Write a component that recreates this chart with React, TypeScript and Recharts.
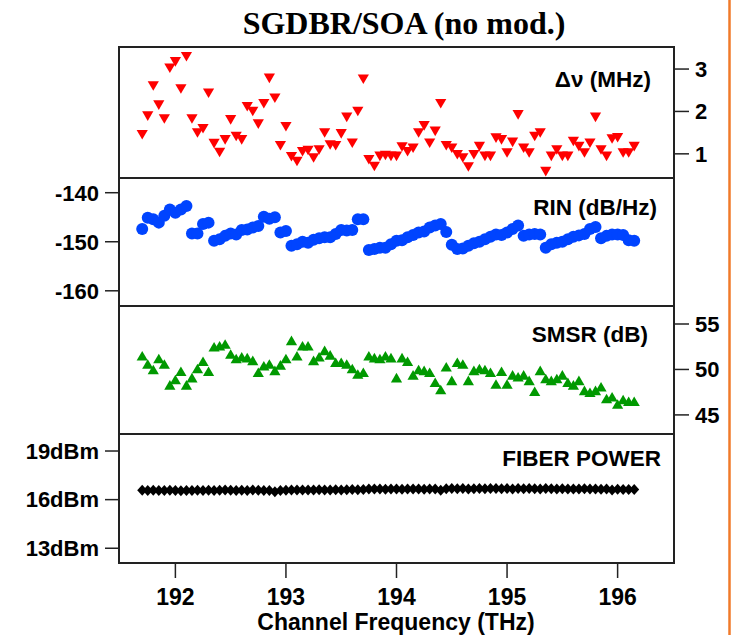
import React from 'react';
import { ScatterChart, Scatter, XAxis, YAxis, ReferenceArea } from 'recharts';

// ---------- data ----------
const FREQ = [
  191.7, 191.75, 191.8, 191.85, 191.9, 191.95, 192.0, 192.05, 192.1, 192.15,
  192.2, 192.25, 192.3, 192.35, 192.4, 192.45, 192.5, 192.55, 192.6, 192.65,
  192.7, 192.75, 192.8, 192.85, 192.9, 192.95, 193.0, 193.05, 193.1, 193.15,
  193.2, 193.25, 193.3, 193.35, 193.4, 193.45, 193.5, 193.55, 193.6, 193.65,
  193.7, 193.75, 193.8, 193.85, 193.9, 193.95, 194.0, 194.05, 194.1, 194.15,
  194.2, 194.25, 194.3, 194.35, 194.4, 194.45, 194.5, 194.55, 194.6, 194.65,
  194.7, 194.75, 194.8, 194.85, 194.9, 194.95, 195.0, 195.05, 195.1, 195.15,
  195.2, 195.25, 195.3, 195.35, 195.4, 195.45, 195.5, 195.55, 195.6, 195.65,
  195.7, 195.75, 195.8, 195.85, 195.9, 195.95, 196.0, 196.05, 196.1, 196.15,
];

const LINEWIDTH_MHZ = [
  1.45, 1.89, 2.6, 2.15, 1.82, 3.02, 3.17, 2.53, 3.29, 1.82,
  1.49, 1.59, 2.43, 1.24, 1.03, 1.33, 1.8, 1.41, 1.33, 2.11,
  2.0, 1.7, 2.18, 2.78, 2.31, 1.19, 1.64, 0.93, 0.82, 1.05,
  1.08, 0.9, 1.09, 1.49, 1.21, 1.19, 1.47, 1.86, 1.25, 2.0,
  2.76, 0.86, 0.7, 0.94, 0.96, 0.94, 0.94, 1.16, 1.05, 1.13,
  1.49, 1.66, 1.25, 1.53, 2.18, 1.19, 1.13, 0.98, 0.9, 0.69,
  0.98, 1.17, 0.94, 0.94, 1.37, 1.33, 1.02, 1.27, 1.92, 1.13,
  1.02, 1.41, 1.49, 0.58, 0.94, 1.09, 0.94, 0.94, 1.29, 1.17,
  1.02, 1.25, 1.86, 1.09, 0.94, 1.35, 1.38, 1.02, 1.02, 1.17,
];

const RIN_DBHZ = [
  -147.4, -145.1, -145.4, -146.1, -144.7, -143.4, -144.1, -143.4, -142.7, -148.3,
  -148.3, -146.4, -146.1, -149.8, -149.5, -148.8, -148.3, -148.5, -147.6, -147.5,
  -147.1, -146.8, -144.9, -145.3, -145.0, -148.1, -147.8, -150.8, -150.5, -150.0,
  -150.2, -149.6, -149.3, -149.1, -149.1, -148.4, -147.6, -147.7, -147.6, -145.4,
  -145.4, -151.7, -151.5, -151.2, -151.2, -150.5, -149.8, -149.7, -149.1, -148.6,
  -148.1, -147.9, -147.1, -146.7, -146.4, -148.0, -150.6, -151.5, -151.4, -150.8,
  -150.3, -150.0, -149.5, -149.0, -148.5, -148.6, -148.1, -147.4, -146.7, -148.8,
  -148.5, -148.4, -148.5, -151.2, -150.5, -150.2, -150.0, -149.5, -149.0, -148.7,
  -148.4, -147.4, -147.0, -149.3, -148.8, -148.5, -148.5, -148.6, -149.7, -149.8,
];

const SMSR_DB = [
  51.5, 50.6, 50.0, 51.2, 50.6, 48.3, 48.9, 49.8, 48.3, 49.1,
  50.1, 50.9, 49.8, 52.5, 52.6, 52.8, 51.7, 51.2, 51.4, 51.3,
  51.0, 49.7, 50.4, 50.6, 49.9, 50.5, 51.2, 53.2, 51.5, 52.6,
  52.6, 51.0, 51.4, 52.1, 51.6, 50.8, 50.8, 50.6, 50.1, 49.5,
  49.7, 51.5, 51.3, 51.2, 51.5, 51.3, 49.1, 51.3, 50.9, 49.4,
  50.0, 49.9, 49.7, 48.6, 47.8, 50.3, 48.8, 50.8, 50.6, 48.8,
  49.9, 50.1, 50.0, 49.7, 48.4, 49.8, 48.4, 49.4, 49.2, 49.4,
  48.8, 47.6, 49.9, 49.0, 48.8, 49.0, 49.4, 48.6, 48.3, 48.8,
  47.7, 47.5, 47.7, 48.1, 46.8, 47.0, 46.2, 46.7, 46.5, 46.5,
];

const FIBER_POWER_DBM = [
  16.58, 16.57, 16.58, 16.56, 16.57, 16.58, 16.56, 16.55, 16.57, 16.56,
  16.58, 16.57, 16.58, 16.57, 16.58, 16.59, 16.58, 16.57, 16.58, 16.57,
  16.59, 16.58, 16.57, 16.56, 16.48, 16.57, 16.58, 16.6, 16.59, 16.6,
  16.59, 16.6, 16.61, 16.6, 16.59, 16.61, 16.6, 16.61, 16.62, 16.61,
  16.62, 16.66, 16.65, 16.66, 16.64, 16.65, 16.66, 16.64, 16.65, 16.66,
  16.65, 16.64, 16.66, 16.65, 16.58, 16.67, 16.68, 16.67, 16.68, 16.66,
  16.67, 16.68, 16.67, 16.68, 16.69, 16.67, 16.68, 16.66, 16.68, 16.67,
  16.68, 16.67, 16.66, 16.68, 16.67, 16.66, 16.67, 16.66, 16.65, 16.66,
  16.67, 16.65, 16.66, 16.64, 16.66, 16.6, 16.64, 16.63, 16.62, 16.63,
];

const X_TICKS = [192, 193, 194, 195, 196];
const DNU_TICKS = [1, 2, 3];
const RIN_TICKS = [-160, -150, -140];
const SMSR_TICKS = [45, 50, 55];
const POWER_TICKS = [13, 16, 19];
const POWER_UNIT = 'dBm';

const TITLE = 'SGDBR/SOA (no mod.)';
const X_TITLE = 'Channel Frequency (THz)';
const LABEL_DNU = 'Δν (MHz)';
const LABEL_RIN = 'RIN (dB/Hz)';
const LABEL_SMSR = 'SMSR (dB)';
const LABEL_POWER = 'FIBER POWER';

// ---------- layout ----------
const W = 738;
const H = 635;
const PLOT_L = 119;
const PLOT_R = 674;
const B = [47, 178, 306, 434, 563];
const PAD = 6;
const AXW = 60;
const XAX_H = 72;
const X_DOMAIN: [number, number] = [191.49, 196.51];

const FONT = '"Liberation Sans", Arial, sans-serif';
const TICKLINE = { stroke: '#222', strokeWidth: 1.5 };
const TICKTXT = { fill: '#000', fontSize: 22, fontWeight: 700, fontFamily: FONT };

const mk = (ys: number[]) => FREQ.map((x, i) => ({ x, y: ys[i] }));

const DownTri = (p: any) => {
  const { cx, cy } = p;
  if (cx == null || cy == null) return null;
  return <polygon points={`${cx - 5.6},${cy - 4.8} ${cx + 5.6},${cy - 4.8} ${cx},${cy + 4.8}`} fill="#FF0000" />;
};
const UpTri = (p: any) => {
  const { cx, cy } = p;
  if (cx == null || cy == null) return null;
  return <polygon points={`${cx - 5.6},${cy + 4.8} ${cx + 5.6},${cy + 4.8} ${cx},${cy - 4.8}`} fill="#009900" />;
};
const Dot = (p: any) => {
  const { cx, cy } = p;
  if (cx == null || cy == null) return null;
  return <circle cx={cx} cy={cy} r={6} fill="#0044FF" />;
};
const Diamond = (p: any) => {
  const { cx, cy } = p;
  if (cx == null || cy == null) return null;
  return <polygon points={`${cx},${cy - 5.5} ${cx + 5},${cy} ${cx},${cy + 5.5} ${cx - 5},${cy}`} fill="#000" />;
};

type PanelProps = {
  idx: number;
  ys: number[];
  domain: [number, number];
  ticks: number[];
  side: 'L' | 'R';
  shape: any;
  fmt?: (v: number) => string;
  showX?: boolean;
};

function Panel({ idx, ys, domain, ticks, side, shape, fmt, showX }: PanelProps) {
  const top = B[idx];
  const bottom = B[idx + 1];
  const extra = showX ? XAX_H : 0;
  const h = bottom - top + 2 * PAD + extra;
  const data = mk(ys);
  const margin = {
    top: PAD,
    bottom: showX ? PAD : PAD,
    left: side === 'L' ? PLOT_L - AXW : PLOT_L,
    right: side === 'R' ? W - PLOT_R - AXW : W - PLOT_R,
  };
  return (
    <div style={{ position: 'absolute', left: 0, top: top - PAD }}>
      <ScatterChart width={W} height={h} margin={margin}>
        <XAxis
          xAxisId="b"
          type="number"
          dataKey="x"
          domain={X_DOMAIN}
          allowDataOverflow
          hide={!showX}
          ticks={X_TICKS}
          tick={{ ...TICKTXT, fontSize: 23 }}
          tickLine={TICKLINE}
          tickSize={15}
          tickMargin={11}
          height={extra}
          axisLine={false}
          interval={0}
        />
        <YAxis
          yAxisId="y"
          orientation={side === 'L' ? 'left' : 'right'}
          type="number"
          dataKey="y"
          domain={domain}
          allowDataOverflow
          width={AXW}
          ticks={ticks}
          tick={TICKTXT}
          tickLine={TICKLINE}
          tickSize={side === 'L' ? 14 : 15}
          tickMargin={6}
          tickFormatter={fmt}
          axisLine={false}
          interval={0}
        />
        <ReferenceArea
          xAxisId="b"
          yAxisId="y"
          x1={X_DOMAIN[0]}
          x2={X_DOMAIN[1]}
          y1={domain[0]}
          y2={domain[1]}
          fill="none"
          fillOpacity={0}
          stroke="#222"
          strokeWidth={2}
          ifOverflow="visible"
        />
        <Scatter
          xAxisId="b"
          yAxisId="y"
          data={data}
          dataKey="y"
          shape={shape}
          isAnimationActive={false}
        />
      </ScatterChart>
    </div>
  );
}

export default function App() {
  return (
    <div style={{ position: 'absolute', left: 0, top: 0, width: W, height: H, background: '#fff', fontFamily: FONT }}>
      <Panel idx={0} ys={LINEWIDTH_MHZ} domain={[0.43, 3.52]} ticks={DNU_TICKS} side="R" shape={DownTri} />
      <Panel idx={1} ys={RIN_DBHZ} domain={[-163.1, -137.0]} ticks={RIN_TICKS} side="L" shape={Dot} />
      <Panel idx={2} ys={SMSR_DB} domain={[42.9, 56.98]} ticks={SMSR_TICKS} side="R" shape={UpTri} />
      <Panel
        idx={3}
        ys={FIBER_POWER_DBM}
        domain={[12.09, 20.05]}
        ticks={POWER_TICKS}
        side="L"
        shape={Diamond}
        fmt={(v: number) => `${v}${POWER_UNIT}`}
        showX
      />
      <svg width={W} height={H} style={{ position: 'absolute', left: 0, top: 0, pointerEvents: 'none' }}>
        <text x={404} y={34} textAnchor="middle" fontFamily='"Liberation Serif", "Times New Roman", serif' fontWeight={700} fontSize={32} fill="#000">
          {TITLE}
        </text>
        <g fontFamily={FONT} fontWeight={700} fontSize={22.5} fill="#000" textAnchor="end">
          <text x={651} y={87}>{LABEL_DNU}</text>
          <text x={657} y={215}>{LABEL_RIN}</text>
          <text x={648} y={342}>{LABEL_SMSR}</text>
          <text x={661} y={466}>{LABEL_POWER}</text>
        </g>
        <text x={396} y={630} textAnchor="middle" fontFamily={FONT} fontWeight={700} fontSize={23} fill="#000">
          {X_TITLE}
        </text>
        <line x1={729.5} y1={0} x2={729.5} y2={H} stroke="#F07A2A" strokeWidth={2.5} />
      </svg>
    </div>
  );
}
